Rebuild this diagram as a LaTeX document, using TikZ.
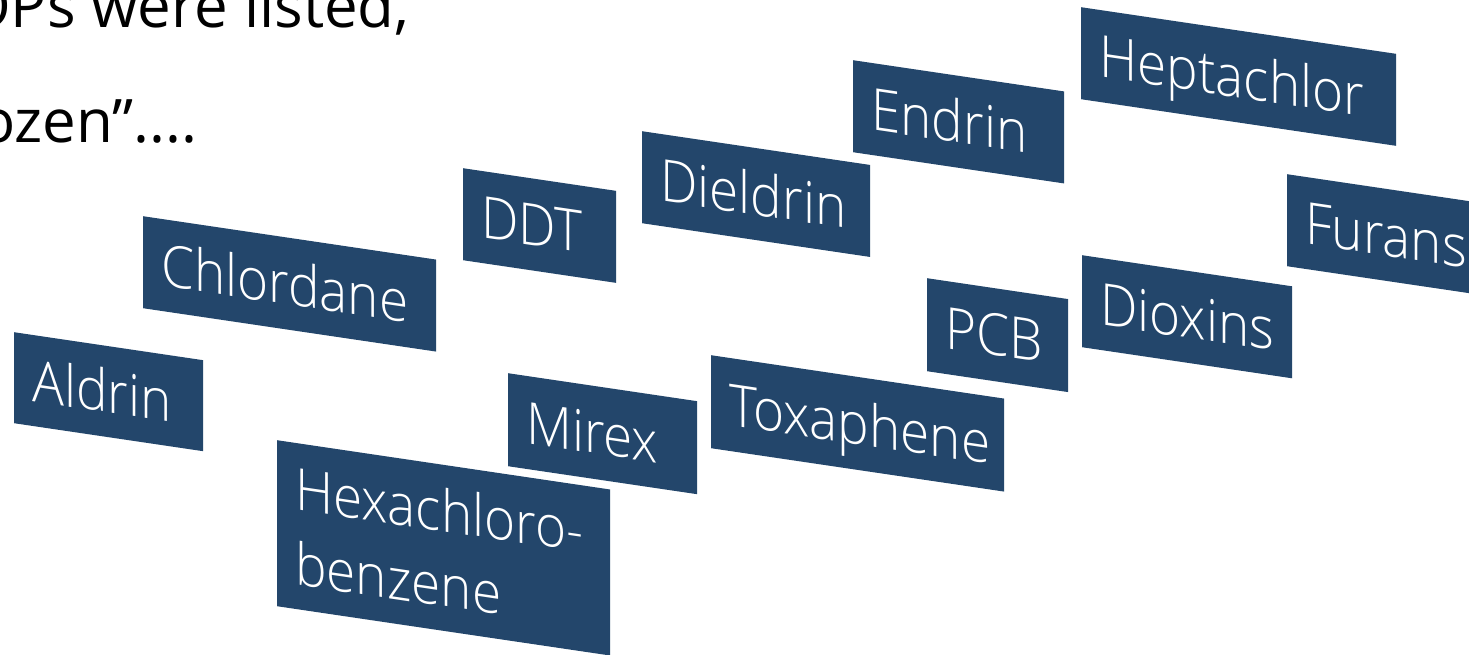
\documentclass[tikz,border=0pt]{standalone}
\usepackage{fontspec}
\usepackage{graphicx}
\setmainfont{Open Sans}
\newfontfamily\popfont{Open Sans Light}
\usetikzlibrary{positioning}
\definecolor{popblue}{RGB}{35,70,107}
\newcommand{\popname}[1]{\scalebox{0.915}[1]{#1}}

\begin{document}
\begin{tikzpicture}[x=1pt,y=-1pt,every node/.style={inner sep=0pt},
    pop/.style 2 args={rectangle,fill=popblue,text=white,yslant=-0.148,anchor=north west,
      inner xsep=18pt,inner ysep=0pt,text width=#1,minimum height=#2,align=flush left,
      text height=42pt,text depth=0pt,font=\popfont\fontsize{58}{75}\selectfont}]
    \useasboundingbox (0,0) rectangle (1469,655);
    \node[anchor=base west,font=\fontsize{60}{60}\selectfont] (line1) at (-36,28) {OPs were listed,};
    \node[anchor=base west,font=\fontsize{60}{60}\selectfont] (line2) at (-21,143) {ozen”....};
    \node[pop={153pt}{91pt}] (aldrin) at (14,332) {\popname{Aldrin}};
    \node[pop={257pt}{92pt}] (chlordane) at (143,216) {\popname{Chlordane}};
    \node[pop={117pt}{92pt}] (ddt) at (463,168) {\popname{DDT}};
    \node[pop={192pt}{92pt}] (dieldrin) at (642,131) {\popname{Dieldrin}};
    \node[pop={175pt}{92pt}] (endrin) at (853,60) {\popname{Endrin}};
    \node[pop={279pt}{92pt}] (heptachlor) at (1081,7) {\popname{Heptachlor}};
    \node[pop={146pt}{92pt}] (furans) at (1287,174) {\popname{Furans}};
    \node[pop={105pt}{93pt}] (pcb) at (927,278) {\popname{PCB}};
    \node[pop={174pt}{92pt}] (dioxins) at (1082,255) {\popname{Dioxins}};
    \node[pop={153pt}{93pt}] (mirex) at (508,373) {\popname{Mirex}};
    \node[pop={257pt}{93pt}] (toxaphene) at (711,355) {\popname{Toxaphene}};
    \node[pop={297pt}{166pt},text depth=75pt] (hexa) at (277,440) {\popname{Hexachloro-}\\\popname{benzene}};
\end{tikzpicture}
\end{document}
